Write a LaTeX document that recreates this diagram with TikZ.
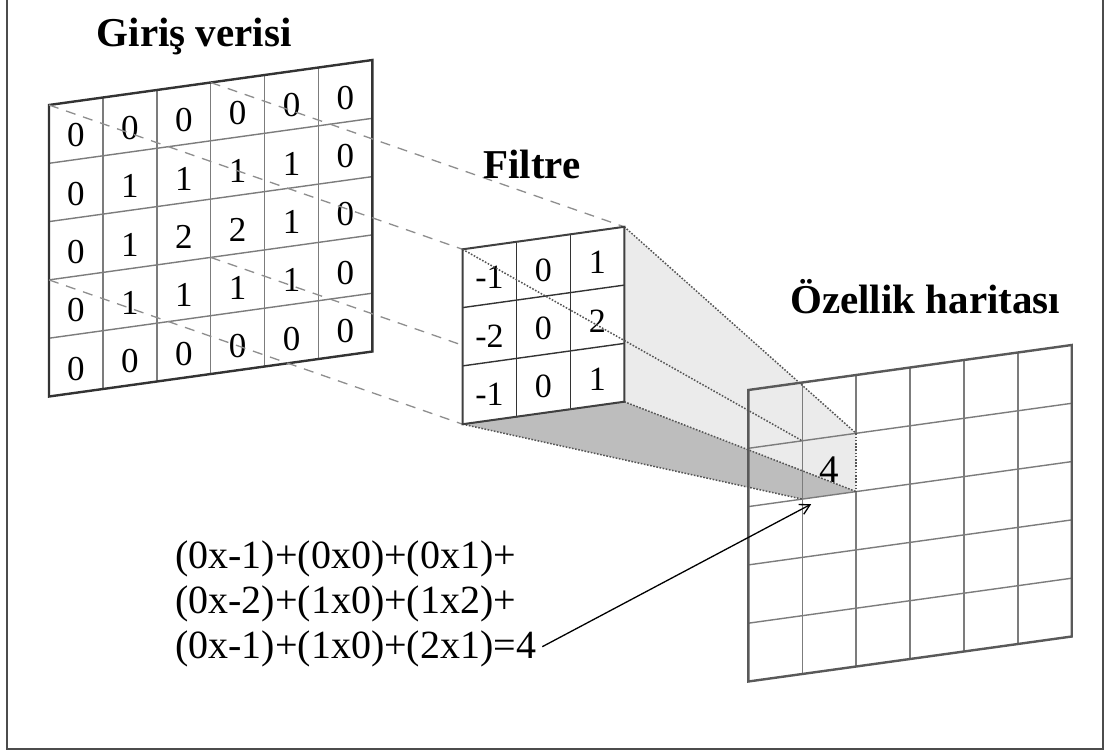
\documentclass[tikz,border=0pt]{standalone}
\usepackage{fontspec}
\setmainfont{Liberation Serif}
\usetikzlibrary{arrows.meta,calc}

\definecolor{gridgray}{HTML}{7C7C7C}
\definecolor{edgegray}{HTML}{333333}
\definecolor{lightface}{HTML}{EBEBEB}
\definecolor{darkface}{HTML}{BDBDBD}
\definecolor{dashgray}{HTML}{8E8E8E}
\definecolor{dotgray}{HTML}{555555}

\begin{document}
\begin{tikzpicture}[x=1pt,y=-1pt,
  innerline/.style={draw=gridgray, line width=1.4pt},
  outerline/.style={draw=edgegray, line width=2.4pt, line join=miter},
  cellnum/.style={font=\fontsize{35}{35}\selectfont, inner sep=0pt, yshift=-5pt},
  filtnum/.style={font=\fontsize{34}{34}\selectfont, inner sep=0pt, yshift=-3pt},
  title/.style={font=\fontsize{41}{41}\selectfont\bfseries, inner sep=0pt, anchor=base west},
  eqline/.style={font=\fontsize{40}{45}\selectfont, inner sep=0pt, anchor=base west},
  dashline/.style={draw=dashgray, line width=1.3pt, dash pattern=on 10pt off 8pt},
  dotline/.style={draw=dotgray, line width=1.5pt, dash pattern=on 1.6pt off 1.6pt},
  pointer/.style={draw=black, line width=1.3pt, -{Straight Barb[length=10pt,width=11pt,line width=1.3pt]}}
]
\useasboundingbox (0,0) rectangle (1106,753);

% frame (open at the top)
\draw[line width=2.2pt, draw=black!70] (7,-5) -- (7,749) -- (1103,749) -- (1103,-5);

% ---------- input data: 6 x 5 cells ----------
\begin{scope}[shift={(49,105)}, x={(53.9pt,7.5pt)}, y={(0pt,-58.3pt)}]
  \fill[white] (0,0) -- (6,0) -- (6,5) -- (0,5) -- cycle;
  \foreach \i in {1,...,5} \draw[innerline] (\i,0) -- (\i,5);
  \foreach \j in {1,...,4} \draw[innerline] (0,\j) -- (6,\j);
  \draw[outerline] (0,0) -- (6,0) -- (6,5) -- (0,5) -- cycle;
  \foreach \row [count=\r from 0] in {{0,0,0,0,0,0},{0,1,1,1,1,0},{0,1,2,2,1,0},{0,1,1,1,1,0},{0,0,0,0,0,0}}
    \foreach \val [count=\c from 0] in \row
      \node[cellnum] (in-\r-\c) at (\c+0.5,\r+0.5) {\val};
  \coordinate (pTL) at (0,0);
  \coordinate (pTR) at (3,0);
  \coordinate (pBL) at (0,3);
  \coordinate (pBR) at (3,3);
\end{scope}

% ---------- corner points of the filter ----------
\begin{scope}[shift={(462.6,249.3)}, x={(53.9pt,7.5pt)}, y={(0pt,-58.3pt)}]
  \coordinate (fTL) at (0,0);
  \coordinate (fTR) at (3,0);
  \coordinate (fBL) at (0,3);
  \coordinate (fBR) at (3,3);
\end{scope}

% ---------- feature map: background and target cell ----------
\begin{scope}[shift={(748.3,390)}, x={(53.9pt,7.5pt)}, y={(0pt,-58.3pt)}]
  \fill[white] (0,0) -- (6,0) -- (6,5) -- (0,5) -- cycle;
  \coordinate (cTL) at (1,1);
  \coordinate (cTR) at (2,1);
  \coordinate (cBL) at (1,2);
  \coordinate (cBR) at (2,2);
\end{scope}

% receptive field to filter
\draw[dashline] (pTL) -- (fTL);
\draw[dashline] (pTR) -- (fTR);
\draw[dashline] (pBL) -- (fBL);
\draw[dashline] (pBR) -- (fBR);

% shaded faces of the projection
\fill[lightface] (fTR) -- (cTR) -- (cBR) -- (fBR) -- cycle;
\fill[darkface] (fBL) -- (fBR) -- (cBR) -- (cBL) -- cycle;

% ---------- feature map grid ----------
\begin{scope}[shift={(748.3,390)}, x={(53.9pt,7.5pt)}, y={(0pt,-58.3pt)}]
  \foreach \i in {1,3,4,5} \draw[innerline] (\i,0) -- (\i,5);
  \draw[innerline] (2,0) -- (2,1);
  \draw[innerline] (2,2) -- (2,5);
  \foreach \j in {1,...,4} \draw[innerline] (0,\j) -- (6,\j);
  \draw[outerline, draw=black!65] (0,0) -- (6,0) -- (6,5) -- (0,5) -- cycle;
  \node[font=\fontsize{39}{39}\selectfont, inner sep=0pt, yshift=-3pt] (four) at (1.5,1.5) {4};
\end{scope}

% edges of the projection
\draw[dotline] (fTR) -- (cTR);
\draw[dotline] (fBR) -- (cBR);
\draw[dotline] (fBL) -- (cBL);
\draw[dotline] (cTR) -- (cBR);
\draw[dotline] (fTR) -- (fBR);
\draw[dotline] (fBL) -- (fBR);

% ---------- filter: 3 x 3 cells ----------
\begin{scope}[shift={(462.6,249.3)}, x={(53.9pt,7.5pt)}, y={(0pt,-58.3pt)}]
  \fill[white] (0,0) -- (3,0) -- (3,3) -- (0,3) -- cycle;
  \foreach \i in {1,2} \draw[draw=edgegray, line width=1.4pt] (\i,0) -- (\i,3);
  \foreach \j in {1,2} \draw[draw=edgegray, line width=1.4pt] (0,\j) -- (3,\j);
  \draw[outerline, line width=2pt, draw=black!75] (0,0) -- (3,0) -- (3,3) -- (0,3) -- cycle;
  \foreach \row [count=\r from 0] in {{-1,0,1},{-2,0,2},{-1,0,1}}
    \foreach \val [count=\c from 0] in \row
      \node[filtnum] (f-\r-\c) at (\c+0.5,\r+0.5) {\val};
\end{scope}

% diagonal edge seen through the filter
\draw[dotline] (fTL) -- (cTL);

% ---------- labels ----------
\node[title] (tin) at (96.7,46) {Giriş verisi};
\node[title] (tfilt) at (483,178.3) {Filtre};
\node[title] (tmap) at (790,313.3) {Özellik haritası};

% ---------- computation ----------
\node[eqline] (eq1) at (175,568.3) {(0x-1)+(0x0)+(0x1)+};
\node[eqline] (eq2) at (175,613.3) {(0x-2)+(1x0)+(1x2)+};
\node[eqline] (eq3) at (175,658.3) {(0x-1)+(1x0)+(2x1)=4};

\coordinate (tip) at ($(cBL)+(9,5)$);
\draw[pointer] ($(eq3.east)+(6,-2)$) -- (tip);

\end{tikzpicture}
\end{document}
